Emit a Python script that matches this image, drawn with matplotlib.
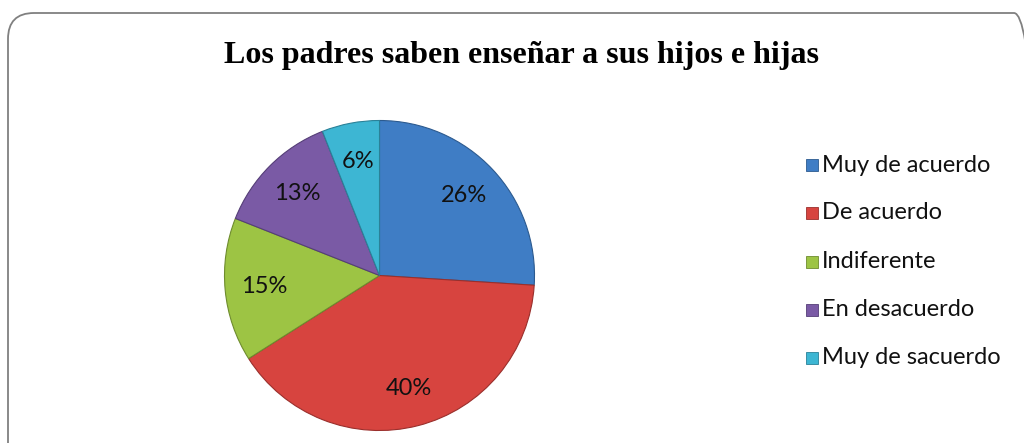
import matplotlib
matplotlib.use("Agg")
import matplotlib.pyplot as plt
from matplotlib.patches import FancyBboxPatch, Rectangle

title = "Los padres saben enseñar a sus hijos e hijas"
categories = ["Muy de acuerdo", "De acuerdo", "Indiferente", "En desacuerdo", "Muy de sacuerdo"]
values = [26, 40, 15, 13, 6]
colors = ["#3F7DC5", "#D7443F", "#9DC444", "#7A5AA5", "#3DB6D3"]
edges = ["#2C5A8F", "#9A2F2C", "#6E8C2E", "#553E77", "#2A8198"]

W, H = 1024, 443
fig = plt.figure(figsize=(W / 100, H / 100), dpi=100)
fig.patch.set_facecolor("white")

# rounded frame (extends past right and bottom)
frame = FancyBboxPatch((8 / 100, -0.6), (1040 - 8) / 100, (443 - 13) / 100 + 0.6,
                       boxstyle="round,pad=0,rounding_size=0.26",
                       transform=fig.dpi_scale_trans, facecolor="none",
                       edgecolor="#808080", linewidth=1.3, zorder=5)
fig.patches.append(frame)

fig.text(522 / W, 1 - 56 / H, title, ha="center", va="center",
         fontsize=23, fontweight="bold", family="Liberation Serif")

cx, cy, r = 379.5, 275.5, 155
ax = fig.add_axes([(cx - r) / W, (H - cy - r) / H, 2 * r / W, 2 * r / H])
wedges, texts, autotexts = ax.pie(values, colors=colors, startangle=90, counterclock=False,
                                  autopct=lambda p: f"{p:.0f}%", pctdistance=0.75,
                                  wedgeprops=dict(linewidth=0.8),
                                  textprops=dict(fontsize=17, family="Lato", color="#111111"))
for w, e in zip(wedges, edges):
    w.set_edgecolor(e)
ax.set_xlim(-1, 1)
ax.set_ylim(-1, 1)
ax.set_aspect("equal")
ax.axis("off")

# legend
ys = [165, 213, 262, 310, 358]
for cat, col, e, y in zip(categories, colors, edges, ys):
    fig.patches.append(Rectangle((806 / W, 1 - (y + 6) / H), 12 / W, 12 / H,
                                 transform=fig.transFigure, facecolor=col,
                                 edgecolor=e, linewidth=0.6))
    fig.text(822 / W, 1 - y / H, cat, ha="left", va="center",
             fontsize=17, family="Lato", color="#111111")

fig.savefig("out.png", dpi=100, facecolor="white")
